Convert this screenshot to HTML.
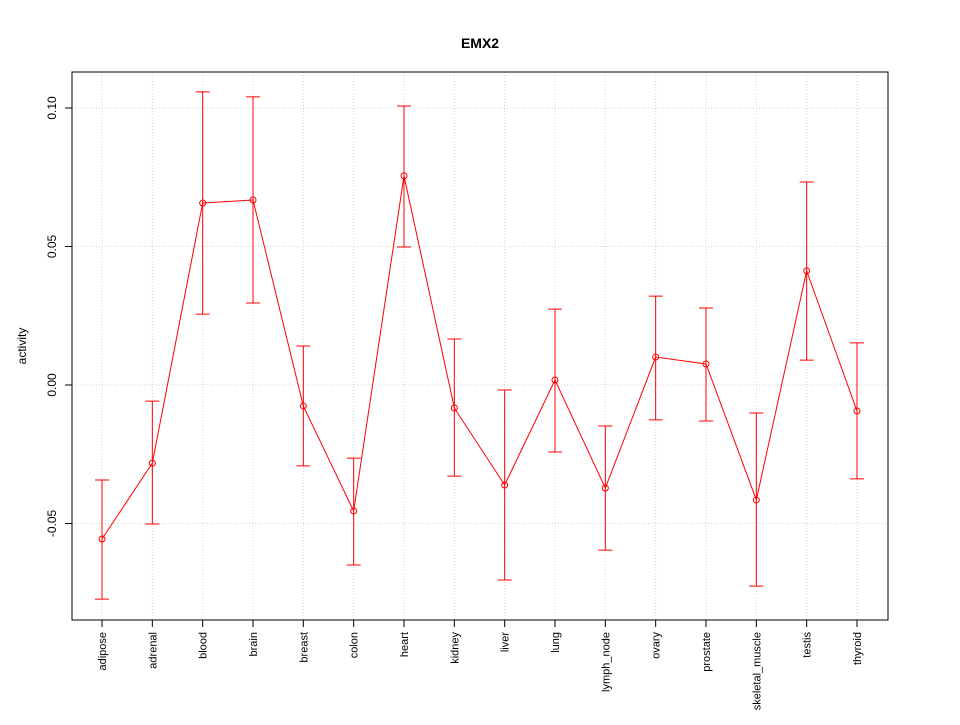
<!DOCTYPE html>
<html><head><meta charset="utf-8"><style>
body{margin:0;background:#fff}
svg{font-family:"Liberation Sans",sans-serif}
</style></head><body>
<svg id="chart" width="960" height="720" viewBox="0 0 960 720" xmlns="http://www.w3.org/2000/svg">
<text x="480" y="48" text-anchor="middle" font-size="14" font-weight="bold">EMX2</text>
<text transform="translate(26,346) rotate(-90)" text-anchor="middle" font-size="12">activity</text>
<g id="grid"></g>
<g id="yaxis"></g>
<g id="xaxis"></g>
<g id="series"></g>
<rect x="72" y="72" width="816" height="548" fill="none" stroke="#000" stroke-width="1"/>
</svg>
<script>
const categories=["adipose","adrenal","blood","brain","breast","colon","heart","kidney","liver","lung","lymph_node","ovary","prostate","skeletal_muscle","testis","thyroid"];
const values=[-0.0556,-0.0282,0.0657,0.0668,-0.0076,-0.0455,0.0755,-0.0083,-0.0361,0.0018,-0.0372,0.0101,0.0076,-0.0415,0.0412,-0.0094];
const upper=[-0.0343,-0.0058,0.1058,0.104,0.0141,-0.0264,0.1007,0.0166,-0.0018,0.0274,-0.0148,0.0321,0.0278,-0.0101,0.0733,0.0152];
const lower=[-0.0773,-0.0502,0.0256,0.0296,-0.0292,-0.065,0.0498,-0.0329,-0.0704,-0.0242,-0.0596,-0.0126,-0.013,-0.0726,0.009,-0.0339];
const yTicks=[-0.05,0,0.05,0.10];
const yTickLabels=["-0.05","0.00","0.05","0.10"];
const NS="http://www.w3.org/2000/svg";
function y(v){return 385-v*2770;}
function x(i){return 102+i*(857-102)/(categories.length-1);}
function mk(tag,attrs,parent){const e=document.createElementNS(NS,tag);for(const k in attrs)e.setAttribute(k,attrs[k]);parent.appendChild(e);return e;}
const grid=document.getElementById('grid'),ya=document.getElementById('yaxis'),xa=document.getElementById('xaxis'),s=document.getElementById('series');
yTicks.forEach((t,i)=>{
 const g=mk('line',{x1:72,x2:888,y1:y(t),y2:y(t),stroke:'#d3d3d3','stroke-dasharray':'1,2'},grid);
 
 
 const tk=mk('line',{x1:65,x2:72,y1:y(t),y2:y(t),stroke:'#000'},ya);
 
 
 const lb=mk('text',{transform:`translate(56,${y(t)}) rotate(-90)`,'text-anchor':'middle','font-size':12},ya);
 lb.textContent=yTickLabels[i];
 
 
});
categories.forEach((c,i)=>{
 const g=mk('line',{x1:x(i),x2:x(i),y1:72,y2:620,stroke:'#d3d3d3','stroke-dasharray':'1,2'},grid);
 
 
 const tk=mk('line',{x1:x(i),x2:x(i),y1:620,y2:627,stroke:'#000'},xa);
 
 
 const lb=mk('text',{transform:`translate(${x(i)+4},632) rotate(-90)`,'text-anchor':'end','font-size':11},xa);
 lb.textContent=c;
 
 
});
let d='';
values.forEach((v,i)=>{d+=(i?'L':'M')+x(i)+','+y(v);});
const pl=mk('path',{d:d,fill:'none',stroke:'#f00','stroke-width':1},s);


values.forEach((v,i)=>{
 const eb=mk('path',{d:`M${x(i)},${y(upper[i])}L${x(i)},${y(lower[i])}M${x(i)-7},${y(upper[i])}L${x(i)+7},${y(upper[i])}M${x(i)-7},${y(lower[i])}L${x(i)+7},${y(lower[i])}`,stroke:'#f00',fill:'none'},s);
 
 
 const p=mk('circle',{cx:x(i),cy:y(v),r:3,fill:'none',stroke:'#f00'},s);
 
 
});
</script>
</body></html>
